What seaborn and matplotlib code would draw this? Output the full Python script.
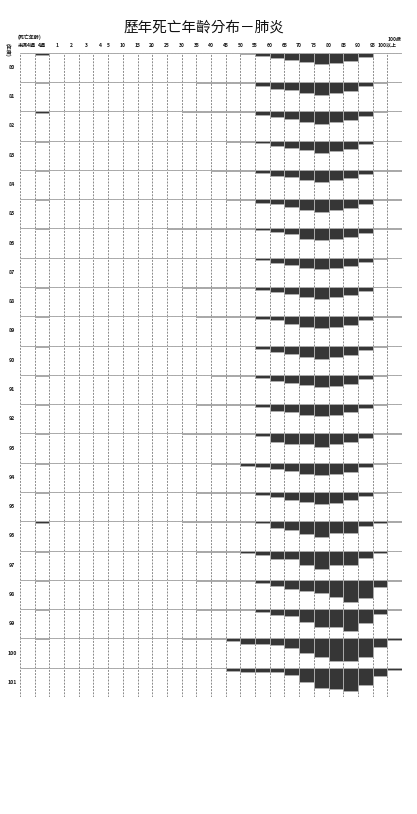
"""
歷年死亡年齡分布－肺炎 : one strip per year, bars hang down from each row's top line.
"""
import matplotlib
matplotlib.use('Agg')
import matplotlib.pyplot as plt
import matplotlib.transforms as mtransforms
import seaborn as sns

sns.set_style('white')
plt.rcParams['font.family'] = ['Noto Sans CJK TC', 'DejaVu Sans']

AGE_GROUPS = ['未滿4週', '4週', '1', '2', '3', '4', '5', '10', '15', '20', '25',
              '30', '35', '40', '45', '50', '55', '60', '65', '70', '75', '80',
              '85', '90', '95', '100以上']
YEARS = list(range(80, 102))

# relative death counts per age group
d80 = [0, 6, 0, 0, 0, 0, 0, 0, 0, 0, 0, 1, 1, 1, 2, 4, 10, 17, 22, 27, 35, 32, 24, 12, 0, 0]
d81 = [0, 4, 0, 0, 0, 0, 0, 0, 0, 0, 1, 1, 2, 2, 2, 3, 11, 21, 25, 32, 40, 34, 27, 12, 3, 0]
d82 = [0, 4, 0, 0, 0, 0, 0, 0, 0, 0, 0, 1, 1, 2, 2, 2, 10, 17, 24, 32, 37, 31, 26, 14, 1, 0]
d83 = [0, 3, 0, 0, 0, 0, 0, 0, 0, 0, 0, 1, 1, 2, 3, 4, 8, 16, 22, 29, 36, 31, 24, 11, 0, 0]
d84 = [0, 4, 0, 0, 0, 0, 0, 0, 0, 0, 0, 1, 1, 2, 2, 3, 9, 18, 23, 32, 36, 32, 26, 13, 2, 2]
d85 = [0, 3, 0, 0, 0, 0, 0, 0, 0, 0, 0, 1, 1, 1, 2, 2, 11, 16, 24, 32, 38, 32, 26, 14, 2, 2]
d86 = [0, 3, 0, 0, 0, 0, 0, 0, 0, 0, 1, 2, 2, 2, 2, 2, 6, 12, 18, 31, 36, 33, 25, 14, 2, 2]
d87 = [1, 2, 0, 0, 0, 0, 0, 0, 0, 0, 0, 0, 0, 2, 2, 2, 8, 16, 23, 31, 35, 31, 24, 12, 3, 2]
d88 = [0, 2, 0, 0, 0, 0, 0, 0, 0, 0, 0, 2, 3, 3, 3, 4, 9, 15, 21, 31, 37, 31, 25, 11, 1, 1]
d89 = [0, 2, 0, 0, 0, 0, 0, 0, 0, 0, 0, 0, 1, 2, 3, 3, 7, 12, 22, 32, 36, 32, 25, 12, 2, 1]
d90 = [0, 5, 0, 0, 0, 0, 0, 0, 0, 0, 0, 1, 2, 2, 2, 2, 11, 19, 25, 33, 39, 34, 28, 14, 4, 2]
d91 = [0, 4, 0, 0, 0, 0, 0, 0, 0, 0, 1, 1, 1, 2, 2, 2, 8, 17, 24, 32, 37, 33, 26, 12, 2, 1]
d92 = [0, 4, 0, 0, 0, 0, 0, 0, 0, 0, 0, 1, 2, 2, 3, 4, 9, 22, 25, 32, 37, 33, 25, 13, 3, 1]
d93 = [0, 3, 0, 0, 0, 0, 0, 0, 0, 0, 0, 1, 2, 2, 2, 2, 8, 25, 32, 32, 42, 32, 27, 14, 2, 2]
d94 = [0, 4, 0, 0, 0, 0, 0, 0, 0, 0, 1, 2, 2, 3, 4, 9, 12, 18, 25, 33, 38, 34, 27, 13, 3, 2]
d95 = [0, 4, 0, 0, 0, 0, 0, 0, 0, 0, 0, 1, 2, 2, 2, 3, 8, 16, 23, 31, 36, 32, 25, 12, 2, 1]
d96 = [0, 4, 0, 0, 0, 0, 0, 0, 0, 0, 0, 1, 2, 2, 2, 2, 4, 21, 25, 38, 46, 34, 34, 13, 4, 2]
d97 = [0, 4, 0, 0, 0, 0, 0, 0, 0, 0, 0, 2, 3, 3, 4, 7, 12, 26, 24, 44, 54, 44, 44, 23, 6, 2]
d98 = [0, 3, 0, 0, 0, 0, 0, 0, 0, 0, 0, 1, 2, 2, 2, 2, 10, 19, 26, 34, 39, 53, 66, 54, 21, 3]
d99 = [0, 2, 0, 0, 0, 0, 0, 0, 0, 0, 0, 1, 2, 2, 3, 3, 8, 17, 22, 39, 54, 54, 65, 42, 14, 2]
d100 = [0, 1, 0, 0, 0, 0, 0, 0, 0, 0, 0, 1, 2, 3, 8, 17, 17, 20, 28, 43, 57, 67, 67, 55, 26, 5]
d101 = [0, 2, 0, 0, 0, 0, 0, 0, 0, 0, 0, 0, 1, 2, 9, 14, 14, 14, 22, 44, 60, 65, 69, 52, 24, 7]

ROWS = [d80, d81, d82, d83, d84, d85, d86, d87, d88, d89, d90, d91, d92,
        d93, d94, d95, d96, d97, d98, d99, d100, d101]

ROW_SCALE = 88  # value that fills a whole row
BAR = '#363636'
EDGE = '#ababab'
GRID = '#8a8a8a'
DASH = (0, (2, 1.3))

W, H = 417, 814
fig, axes = plt.subplots(len(YEARS), 1, figsize=(W / 100, H / 100), dpi=100,
                         gridspec_kw=dict(hspace=0, left=20 / W, right=402 / W,
                                          top=1 - 52.7 / H, bottom=1 - 697 / H))

n = len(AGE_GROUPS)
for ax, year, vals in zip(axes, YEARS, ROWS):
    sns.barplot(x=AGE_GROUPS, y=vals, order=AGE_GROUPS, color=BAR, saturation=1,
                width=1, edgecolor=EDGE, linewidth=0.7, errorbar=None, ax=ax, zorder=2)
    ax.set_xlim(-0.5, n - 0.5)
    ax.set_ylim(ROW_SCALE, 0)
    ax.set_axis_off()
    for b in range(n + 1):
        ax.axvline(b - 0.5, color=GRID, lw=0.7, ls=DASH, zorder=0)
    ax.axhline(0, color=GRID, lw=0.7, ls=DASH, zorder=1)
    ax.text(-0.021, 0.5, str(year), transform=ax.transAxes, ha='center', va='center',
            fontsize=3.8, fontweight='bold', color='#1a1a1a')

axes[-1].axhline(ROW_SCALE, color=GRID, lw=0.7, ls=DASH, zorder=1)

# column headers: under-5 groups centred, 5+ groups on their left boundary
top = axes[0]
trans = mtransforms.blended_transform_factory(top.transData, fig.transFigure)
for i, lab in enumerate(AGE_GROUPS):
    xpos = i if i < 6 else i - 0.5
    top.text(xpos, 1 - 45.5 / H, lab, transform=trans, ha='center', va='center',
             fontsize=3.6, fontweight='bold', color='#1a1a1a')
top.text(n - 1, 1 - 39 / H, '100歲', transform=trans, ha='center', va='center',
         fontsize=3.6, fontweight='bold', color='#1a1a1a')

fig.text(18 / W, 1 - 37 / H, '(死亡年齡)', ha='left', va='center',
         fontsize=3.6, fontweight='bold', color='#1a1a1a')
fig.text(7 / W, 1 - 50 / H, '(年度)', ha='center', va='center', rotation=-90,
         fontsize=3.6, fontweight='bold', color='#1a1a1a')
fig.text(204 / W, 1 - 27.5 / H, '歷年死亡年齡分布－肺炎', ha='center', va='center',
         fontsize=10.5, color='#111111')

fig.savefig('out.png', dpi=100, facecolor='white')
